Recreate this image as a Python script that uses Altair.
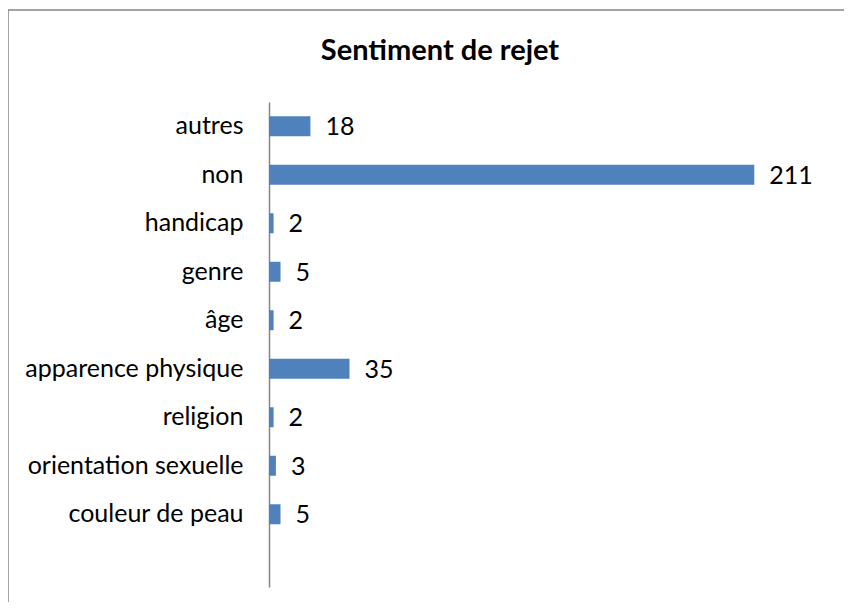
import altair as alt
import pandas as pd

categories = ["autres", "non", "handicap", "genre", "âge", "apparence physique",
              "religion", "orientation sexuelle", "couleur de peau"]
values = [18, 211, 2, 5, 2, 35, 2, 3, 5]
domain = categories + [""]
title_text = "Sentiment de rejet"

df = pd.DataFrame({"cat": categories, "val": values})

FONT = "Lato"

y_enc = alt.Y("cat:N", sort=domain,
              scale=alt.Scale(domain=domain, paddingInner=0.588, paddingOuter=0.294),
              axis=alt.Axis(title=None, ticks=False, labelPadding=26, labelFontSize=25,
                            labelFont=FONT, labelColor="#000000", domainColor="#868686",
                            domainWidth=1.5, labelLimit=400))
x_enc = alt.X("val:Q", scale=alt.Scale(domain=[0, 250]), axis=None)

bars = alt.Chart(df).mark_bar(color="#4F81BD").encode(x=x_enc, y=y_enc)
labels = alt.Chart(df).mark_text(align="left", baseline="middle", dx=15, dy=1, fontSize=25,
                                 font=FONT, color="#000000").encode(
    x=x_enc, y=alt.Y("cat:N", sort=domain), text="val:Q")

frame = alt.Chart(pd.DataFrame({"a": [0]})).mark_rect(
    fill=None, stroke="#868686", strokeWidth=1.5, clip=False).encode(
    x=alt.value(-261), x2=alt.value(700), y=alt.value(-92), y2=alt.value(540))

title = alt.Chart(pd.DataFrame({"t": [title_text]})).mark_text(
    align="center", baseline="alphabetic", fontSize=29, font=FONT, fontWeight="bold",
    color="#000000", clip=False).encode(
    x=alt.value(171), y=alt.value(-42), text="t:N")

chart = alt.layer(frame, bars, labels, title).properties(
    width=575, height=485,
    autosize=alt.AutoSizeParams(type="none"),
    padding={"left": 261, "top": 94, "right": 0, "bottom": 15},
).configure_view(stroke=None)

chart.save("out.html", embed_options={"renderer": "svg", "actions": False})
